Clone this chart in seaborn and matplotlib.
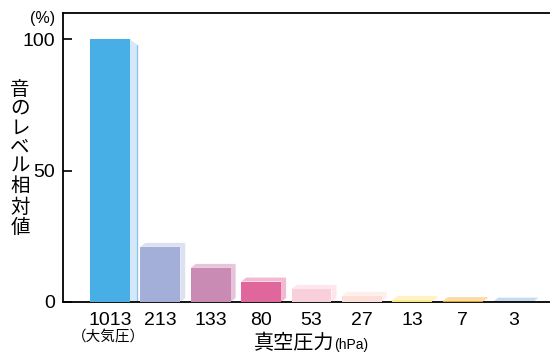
import matplotlib
matplotlib.use("Agg")
import matplotlib.pyplot as plt
from matplotlib.patches import Polygon
import seaborn as sns
import pandas as pd

# ---- data ----
pressures = ["1013", "213", "133", "80", "53", "27", "13", "7", "3"]
levels = [100, 21, 13, 7.8, 5.0, 2.4, 0.8, 0.4, 0.15]
front_colors = ["#47AFE5", "#A3AFD9", "#C98AB3", "#E0679B", "#F9CFDB",
                "#FDDFDA", "#FFE88A", "#E0A028", "#5A9FD8"]
face_colors = ["#D4E8F8", "#DDE0F0", "#E6C4DA", "#F4B8D0", "#FDE6EC",
               "#FEEFEC", "#FFF3C4", "#F9DCA8", "#C4DCF2"]
yticks = [0, 50, 100]

sns.set_theme(style="white")
plt.rcParams["font.family"] = ["Liberation Sans", "Noto Sans CJK JP", "DejaVu Sans"]

fig = plt.figure(figsize=(5.5, 3.54), dpi=100)
ax = fig.add_axes([63 / 550, 1 - 302 / 354, 1 - 63 / 550, (302 - 13) / 354])

df = pd.DataFrame({"p": pressures, "v": levels})
bw = 0.79
sns.barplot(data=df, x="p", y="v", hue="p", order=pressures, hue_order=pressures,
            palette=front_colors, saturation=1, width=bw, legend=False, ax=ax,
            edgecolor="none", linewidth=0, zorder=3)

# pseudo-3D top and side faces computed from the values
dx, dy = 0.10, 1.5
for i, (v, fc) in enumerate(zip(levels, face_colors)):
    x0, x1 = i - bw / 2, i + bw / 2
    if i == 0:
        side = [(x1, v), (x1 + 0.14, v - 2.0), (x1 + 0.14, 0.3), (x1, 0)]
        ax.add_patch(Polygon(side, closed=True, facecolor=fc, edgecolor="none", zorder=2))
        ax.plot([x1 + 0.14, x1 + 0.14], [0.3, v - 2.0], color="#8CC4EC", lw=1, zorder=2)
    else:
        top = [(x0, v), (x1, v), (x1 + dx, v + dy), (x0 + dx, v + dy)]
        side = [(x1, 0), (x1, v), (x1 + dx, v + dy), (x1 + dx, dy)]
        ax.add_patch(Polygon(side, closed=True, facecolor=fc, edgecolor="none", zorder=2))
        ax.add_patch(Polygon(top, closed=True, facecolor=fc, edgecolor="none", zorder=2))

ax.set_xlim(-0.93, 8.73)
ax.set_ylim(0, 110)
ax.set_yticks(yticks)
ax.set_yticklabels([str(t) for t in yticks])
ax.set_xlabel("")
ax.set_ylabel("")

for s in ["left", "bottom", "top"]:
    ax.spines[s].set_visible(True)
    ax.spines[s].set_color("black")
    ax.spines[s].set_linewidth(1.3)
ax.spines["right"].set_visible(False)

ax.tick_params(axis="y", direction="in", length=6.5, width=1.2, color="black",
               pad=6, labelsize=14, left=True)
ax.tick_params(axis="x", length=0, pad=7, labelsize=14)
for lab in ax.get_xticklabels() + ax.get_yticklabels():
    lab.set_color("black")

# annotations
fig.text(43 / 550, 1 - 18 / 354, "(%)", fontsize=11.5, ha="center", va="center", color="black")
fig.text(20 / 550, 1 - 159 / 354, "\n".join("音のレベル相対値"), fontsize=14,
         ha="center", va="center", linespacing=1.17, color="black")
fig.text(108 / 550, 1 - 338 / 354, "（大気圧）", fontsize=10.5, ha="center", va="center",
         color="black")
fig.text(334 / 550, 1 - 349 / 354, "真空圧力", fontsize=14.5, ha="right", va="baseline",
         color="black")
fig.text(334 / 550, 1 - 349 / 354, "(hPa)", fontsize=10, ha="left", va="baseline",
         color="black")

fig.savefig("out.png", dpi=100)
